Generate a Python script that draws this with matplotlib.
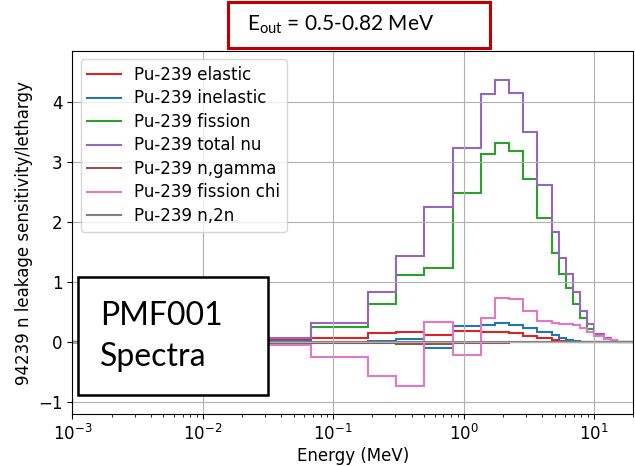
import matplotlib
matplotlib.use("Agg")
import matplotlib.pyplot as plt
from matplotlib.patches import Rectangle

plt.rcParams["font.size"] = 12

# energy group boundaries (MeV)
edges = [4.54e-4, 1.235e-3, 3.35e-3, 9.12e-3, 0.0248, 0.0676, 0.184, 0.303, 0.5, 0.823,
         1.353, 1.738, 2.232, 2.865, 3.68, 4.72, 5.35, 6.07, 6.87, 7.79, 8.82,
         10.0, 12.0, 13.5, 15.0, 17.0, 20.0]

elastic = [0.01, 0.02, 0.03, 0.04, 0.05, 0.077, 0.15, 0.18, 0.128, 0.193,
           0.177, 0.177, 0.15, 0.10, 0.067, 0.038, 0.02, 0.01, 0.005, 0.003,
           0.002, 0.001, 0.0, 0.0, 0.0, 0.0]
inelastic = [0.0, 0.0, 0.0, 0.01, 0.027, 0.01, 0.027, 0.055, -0.10, 0.272,
             0.288, 0.317, 0.288, 0.243, 0.177, 0.122, 0.077, 0.038, 0.015, 0.005,
             0.002, 0.001, 0.0, 0.0, 0.0, 0.0]
fission = [0.005, 0.01, 0.02, 0.035, 0.067, 0.25, 0.643, 1.12, 1.243, 2.493,
           3.138, 3.317, 3.183, 2.72, 2.067, 1.483, 1.138, 0.90, 0.638, 0.40,
           0.222, 0.105, 0.05, 0.02, 0.005, 0.0]
total_nu = [0.005, 0.01, 0.02, 0.04, 0.077, 0.327, 0.843, 1.443, 2.26, 3.233,
            4.145, 4.37, 4.155, 3.51, 2.615, 1.843, 1.41, 1.138, 0.833, 0.527,
            0.30, 0.133, 0.077, 0.038, 0.01, 0.0]
n_gamma = [0.0, 0.0, 0.0, 0.0, -0.005, -0.008, -0.01, -0.02, -0.033, -0.017,
           -0.01, -0.005, -0.003, -0.002, -0.001, 0.0, 0.0, 0.0, 0.0, 0.0,
           0.0, 0.0, 0.0, 0.0, 0.0, 0.0]
fission_chi = [-0.01, -0.02, -0.03, -0.04, -0.045, -0.24, -0.56, -0.72, 0.343, -0.21,
               0.41, 0.733, 0.72, 0.52, 0.36, 0.317, 0.31, 0.30, 0.29, 0.24,
               0.17, 0.10, 0.05, 0.035, 0.01, 0.0]
n_2n = [0.0] * 26

series = [
    ("Pu-239 elastic", elastic, "#d62728"),
    ("Pu-239 inelastic", inelastic, "#1f77b4"),
    ("Pu-239 fission", fission, "#2ca02c"),
    ("Pu-239 total nu", total_nu, "#9467bd"),
    ("Pu-239 n,gamma", n_gamma, "#8c564b"),
    ("Pu-239 fission chi", fission_chi, "#e377c2"),
    ("Pu-239 n,2n", n_2n, "#7f7f7f"),
]

fig = plt.figure(figsize=(6.35, 4.66), dpi=100)
ax = fig.add_axes([0.1139, 0.1109, 0.8835, 0.7797])

for label, vals, color in series:
    ax.stairs(vals, edges, baseline=None, color=color, linewidth=1.5, label=label)

ax.set_xscale("log")
ax.set_xlim(1e-3, 20)
ax.set_ylim(-1.2, 4.855)
ax.grid(True)
ax.set_xlabel("Energy (MeV)", labelpad=2)
ax.set_ylabel("94239 n leakage sensitivity/lethargy")
ax.legend(loc="upper left", labelspacing=0.33)

# slide annotations on top of the plot
fig.patches.append(Rectangle((228 / 635, 1 - 48 / 466), 262 / 635, 46 / 466,
                             transform=fig.transFigure, facecolor="white",
                             edgecolor="#c00000", linewidth=2.2, zorder=10))
fig.text(247 / 635, 1 - 25 / 466, r"E$_{\mathregular{out}}$ = 0.5-0.82 MeV",
         fontsize=15, family="Lato", va="center", ha="left", zorder=11)

fig.patches.append(Rectangle((78 / 635, 1 - 395 / 466), 190 / 635, 118 / 466,
                             transform=fig.transFigure, facecolor="white",
                             edgecolor="black", linewidth=1.8, zorder=10))
fig.text(100 / 635, 1 - 316 / 466, "PMF001", fontsize=23, family="Lato",
         va="center", ha="left", zorder=11)
fig.text(100 / 635, 1 - 357 / 466, "Spectra", fontsize=23, family="Lato",
         va="center", ha="left", zorder=11)

fig.savefig("out.png", dpi=100)
